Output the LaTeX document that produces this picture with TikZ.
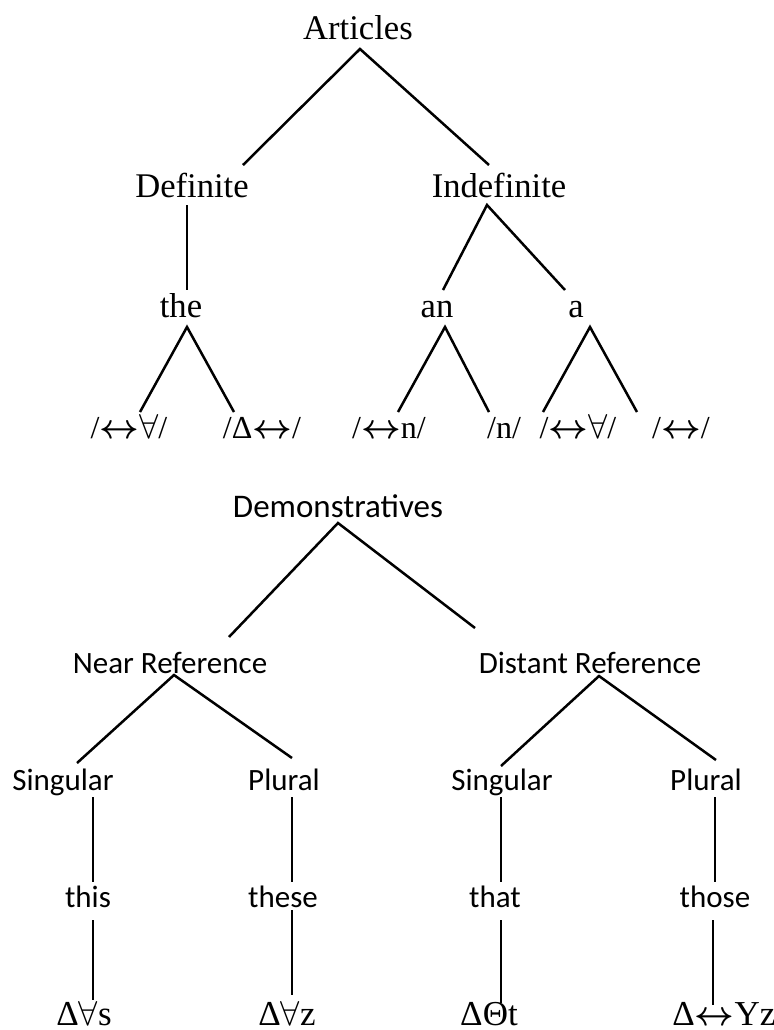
\documentclass[tikz,border=0pt]{standalone}
\usepackage{bm}
\usepackage{fontspec}
\setmainfont{Liberation Serif}
\newfontfamily\labelsans{Carlito}
\newcommand{\phLR}{$\bm{\leftrightarrow}$}
\newcommand{\phAll}{$\forall$}
\begin{document}
\begin{tikzpicture}[x=0.5pt,y=-0.5pt,
  serif/.style={font=\fontsize{17.3}{20}\selectfont, anchor=base, inner sep=0pt},
  phon/.style={font=\fontsize{16}{19}\selectfont, anchor=base, inner sep=0pt},
  phonbig/.style={font=\fontsize{17.5}{20}\selectfont, anchor=base, inner sep=0pt},
  sans/.style={font=\labelsans\fontsize{15.5}{18}\selectfont, anchor=base, inner sep=0pt},
  branch/.style={line width=1.25pt}]
\useasboundingbox (0,0) rectangle (774,1030);

% ---------- Articles ----------
\node[serif] (art)   at (358,39)  {Articles};
\node[serif] (def)   at (192,197) {Definite};
\node[serif] (indef) at (499,197) {Indefinite};
\node[serif] (the)   at (181,317) {the};
\node[serif] (an)    at (437,317) {an};
\node[serif] (a)     at (576,317) {a};
\node[phon] (the1) at (129,438) {/\phLR\phAll/};
\node[phon] (the2) at (262,438) {/Δ\phLR/};
\node[phon] (an1)  at (389,438) {/\phLR n/};
\node[phon] (an2)  at (504,438) {/n/};
\node[phon] (a1)   at (578,438) {/\phLR\phAll/};
\node[phon] (a2)   at (681,438) {/\phLR/};

% branch points
\coordinate (artJ)   at (360,49);
\coordinate (defT)   at (243,165);
\coordinate (indefT) at (489,165);
\coordinate (defJ)   at (187,205);
\coordinate (theT)   at (187,290);
\coordinate (indefJ) at (487,205);
\coordinate (anT)    at (443,290);
\coordinate (aT)     at (565,290);
\coordinate (theJ)   at (187,327);
\coordinate (the1T)  at (140,412);
\coordinate (the2T)  at (234,412);
\coordinate (anJ)    at (445,327);
\coordinate (an1T)   at (398,412);
\coordinate (an2T)   at (489,412);
\coordinate (aJ)     at (590,327);
\coordinate (a1T)    at (543,412);
\coordinate (a2T)    at (637,412);

\draw[branch] (defT) -- (artJ) -- (indefT);
\draw[branch] (defJ) -- (theT);
\draw[branch] (anT) -- (indefJ) -- (aT);
\draw[branch] (the1T) -- (theJ) -- (the2T);
\draw[branch] (an1T) -- (anJ) -- (an2T);
\draw[branch] (a1T) -- (aJ) -- (a2T);

% ---------- Demonstratives ----------
\node[sans, font=\labelsans\fontsize{16.5}{19}\selectfont] (dem) at (338,517) {Demonstratives};
\node[sans] (near) at (170,673) {Near Reference};
\node[sans] (dist) at (590,673) {Distant Reference};
\node[sans] (nsg)  at (63,790)  {Singular};
\node[sans] (npl)  at (284,790) {Plural};
\node[sans] (dsg)  at (502,790) {Singular};
\node[sans] (dpl)  at (706,790) {Plural};
\node[sans] (this)  at (88,907)  {this};
\node[sans] (these) at (283,907) {these};
\node[sans] (that)  at (495,907) {that};
\node[sans] (those) at (715,907) {those};
\node[phonbig] (thisP)  at (84,1025)  {Δ\phAll s};
\node[phonbig] (theseP) at (287,1025) {Δ\phAll z};
\node[phonbig] (thatP)  at (489,1025) {ΔΘt};
\node[phonbig] (thoseP) at (724,1025) {Δ\phLR Yz};

\coordinate (demJ)  at (338,523);
\coordinate (nearT) at (229,637);
\coordinate (distT) at (475,628);
\coordinate (nearJ) at (174,675);
\coordinate (nsgT)  at (77,763);
\coordinate (nplT)  at (292,758);
\coordinate (distJ) at (599,676);
\coordinate (dsgT)  at (501,766);
\coordinate (dplT)  at (716,760);

\draw[branch] (nearT) -- (demJ) -- (distT);
\draw[branch] (nsgT) -- (nearJ) -- (nplT);
\draw[branch] (dsgT) -- (distJ) -- (dplT);

% vertical stems: word class -> word -> pronunciation
\coordinate (nsgB) at (93,797);   \coordinate (thisT)  at (93,882);
\coordinate (nplB) at (292,797);  \coordinate (theseT) at (292,882);
\coordinate (dsgB) at (501,797);  \coordinate (thatT)  at (501,882);
\coordinate (dplB) at (715,797);  \coordinate (thoseT) at (715,882);
\coordinate (thisB)  at (93,920);  \coordinate (thisPT)  at (93,1000);
\coordinate (theseB) at (292,910); \coordinate (thesePT) at (292,995);
\coordinate (thatB)  at (501,920); \coordinate (thatPT)  at (501,1003);
\coordinate (thoseB) at (713,920); \coordinate (thosePT) at (713,1005);

\draw[branch] (nsgB) -- (thisT);
\draw[branch] (nplB) -- (theseT);
\draw[branch] (dsgB) -- (thatT);
\draw[branch] (dplB) -- (thoseT);
\draw[branch] (thisB) -- (thisPT);
\draw[branch] (theseB) -- (thesePT);
\draw[branch] (thatB) -- (thatPT);
\draw[branch] (thoseB) -- (thosePT);
\end{tikzpicture}
\end{document}
